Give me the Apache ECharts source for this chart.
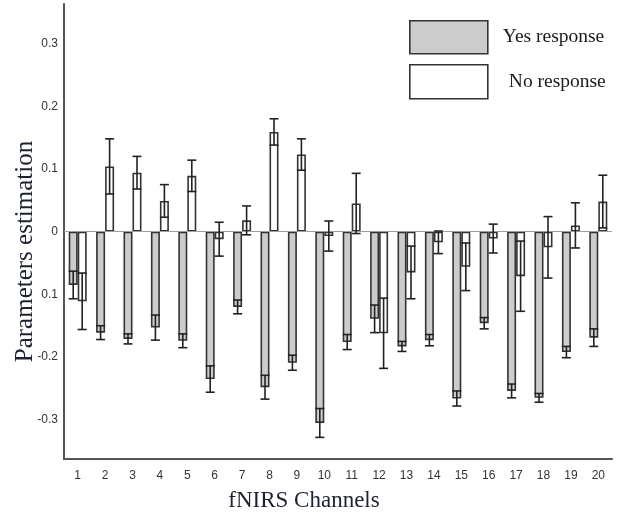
<!DOCTYPE html>
<html>
<head>
<meta charset="utf-8">
<script src="https://cdn.jsdelivr.net/npm/echarts@6/dist/echarts.min.js"></script>
<style>
  html, body { margin: 0; padding: 0; background: #ffffff; }
  #chart { width: 619px; height: 512px; }
</style>
</head>
<body>
<div id="chart"></div>
<script>
const channels = ['1','2','3','4','5','6','7','8','9','10','11','12','13','14','15','16','17','18','19','20'];
const yesValues = [-0.085, -0.161, -0.171, -0.153, -0.174, -0.235, -0.120, -0.248, -0.209, -0.305, -0.176, -0.139, -0.183, -0.173, -0.266, -0.146, -0.254, -0.265, -0.192, -0.169];
const yesErrors = [0.022, 0.011, 0.008, 0.020, 0.011, 0.021, 0.011, 0.019, 0.012, 0.023, 0.012, 0.022, 0.008, 0.009, 0.012, 0.009, 0.011, 0.007, 0.009, 0.014];
const noValues = [-0.111, 0.104, 0.094, 0.049, 0.089, -0.012, 0.018, 0.159, 0.123, -0.007, 0.045, -0.162, -0.065, -0.017, -0.056, -0.011, -0.071, -0.025, 0.010, 0.048];
const noErrors = [0.045, 0.044, 0.026, 0.026, 0.025, 0.027, 0.023, 0.021, 0.025, 0.024, 0.048, 0.056, 0.042, 0.018, 0.038, 0.023, 0.056, 0.049, 0.036, 0.042];
const yTickValues = [-0.3, -0.2, -0.1, 0, 0.1, 0.2, 0.3];
const yTickTexts = ['-0.3', '-0.2', '0.1', '0', '0.1', '0.2', '0.3'];
const seriesNames = ['Yes response', 'No response'];
const xTitle = 'fNIRS Channels';
const yTitle = 'Parameters estimation';

const BAR_W = 9;
const chart = echarts.init(document.getElementById('chart'), null, { renderer: 'canvas' });

function errorRenderer(offset) {
  return function (params, api) {
    const idx = api.value(0);
    const v = api.value(1);
    const e = api.value(2);
    const c = api.coord([idx, v]);
    const hi = api.coord([idx, v + e]);
    const lo = api.coord([idx, v - e]);
    const x = c[0] + offset;
    const hw = BAR_W / 2;
    const style = { stroke: '#222', lineWidth: 1.6, fill: null };
    return {
      type: 'group',
      children: [
        { type: 'line', shape: { x1: x, y1: hi[1], x2: x, y2: lo[1] }, style: style },
        { type: 'line', shape: { x1: x - hw, y1: hi[1], x2: x + hw, y2: hi[1] }, style: style },
        { type: 'line', shape: { x1: x - hw, y1: lo[1], x2: x + hw, y2: lo[1] }, style: style }
      ]
    };
  };
}

const serif = '"Liberation Serif", "Times New Roman", serif';
const sans = '"Liberation Sans", Arial, sans-serif';

const option = {
  animation: false,
  backgroundColor: '#ffffff',
  grid: { left: 64, right: 7, top: 4, bottom: 53, outerBoundsMode: 'none', containLabel: false },
  legend: [
    {
      data: [seriesNames[0]],
      left: 409, top: 20, padding: 0,
      itemWidth: 78, itemHeight: 33,
      icon: 'rect',
      itemStyle: { color: '#cccccc', borderColor: '#333', borderWidth: 1.6 },
      textStyle: { fontFamily: serif, fontSize: 19.5, color: '#1a1a1a', padding: [0, 0, 0, 10] }
    },
    {
      data: [seriesNames[1]],
      left: 409, top: 64, padding: 0,
      itemWidth: 78, itemHeight: 34,
      icon: 'rect',
      itemStyle: { color: '#ffffff', borderColor: '#333', borderWidth: 1.6 },
      textStyle: { fontFamily: serif, fontSize: 19.5, color: '#1a1a1a', padding: [0, 0, 0, 16] }
    }
  ],
  xAxis: {
    type: 'category',
    data: channels,
    position: 'bottom',
    axisLine: { onZero: false, lineStyle: { color: '#555', width: 2 } },
    axisTick: { show: false },
    axisLabel: { color: '#333', fontFamily: sans, fontSize: 12, margin: 11 },
    name: xTitle,
    nameLocation: 'middle',
    nameGap: 30,
    nameMoveOverlap: false,
    nameTextStyle: { fontFamily: serif, fontSize: 23, color: '#1c2230', padding: [0, 68, 0, 0] }
  },
  yAxis: {
    type: 'value',
    min: -0.3625,
    max: 0.363,
    splitNumber: 7,
    splitLine: { show: false },
    axisLine: { show: true, lineStyle: { color: '#555', width: 2 } },
    axisTick: { show: false },
    axisLabel: {
      color: '#333', fontFamily: sans, fontSize: 12, margin: 6,
      showMinLabel: false, showMaxLabel: false,
      formatter: function (val) {
        for (let i = 0; i < yTickValues.length; i++) {
          if (Math.abs(yTickValues[i] - val) < 1e-6) return yTickTexts[i];
        }
        return '';
      }
    },
    name: yTitle,
    nameLocation: 'middle',
    nameRotate: 90,
    nameGap: 26,
    nameMoveOverlap: false,
    nameTextStyle: { fontFamily: serif, fontSize: 25, color: '#1c2230', padding: [0, 40, 0, 0] }
  },
  series: [
    {
      name: seriesNames[0],
      type: 'bar',
      data: yesValues,
      barWidth: BAR_W,
      barGap: '0%',
      itemStyle: { color: '#cccccc', borderColor: '#333', borderWidth: 1.6 },
      markLine: {
        silent: true,
        symbol: ['none', 'none'],
        label: { show: false },
        lineStyle: { color: '#a0a0a0', width: 1, type: 'solid' },
        data: [{ yAxis: 0 }]
      }
    },
    {
      name: seriesNames[1],
      type: 'bar',
      data: noValues,
      barWidth: BAR_W,
      barGap: '0%',
      itemStyle: { color: '#ffffff', borderColor: '#333', borderWidth: 1.6 }
    },
    {
      type: 'custom',
      renderItem: errorRenderer(-BAR_W / 2),
      data: yesValues.map((v, i) => [i, v, yesErrors[i]]),
      z: 10
    },
    {
      type: 'custom',
      renderItem: errorRenderer(BAR_W / 2),
      data: noValues.map((v, i) => [i, v, noErrors[i]]),
      z: 10
    }
  ]
};
chart.setOption(option);
</script>
</body>
</html>
